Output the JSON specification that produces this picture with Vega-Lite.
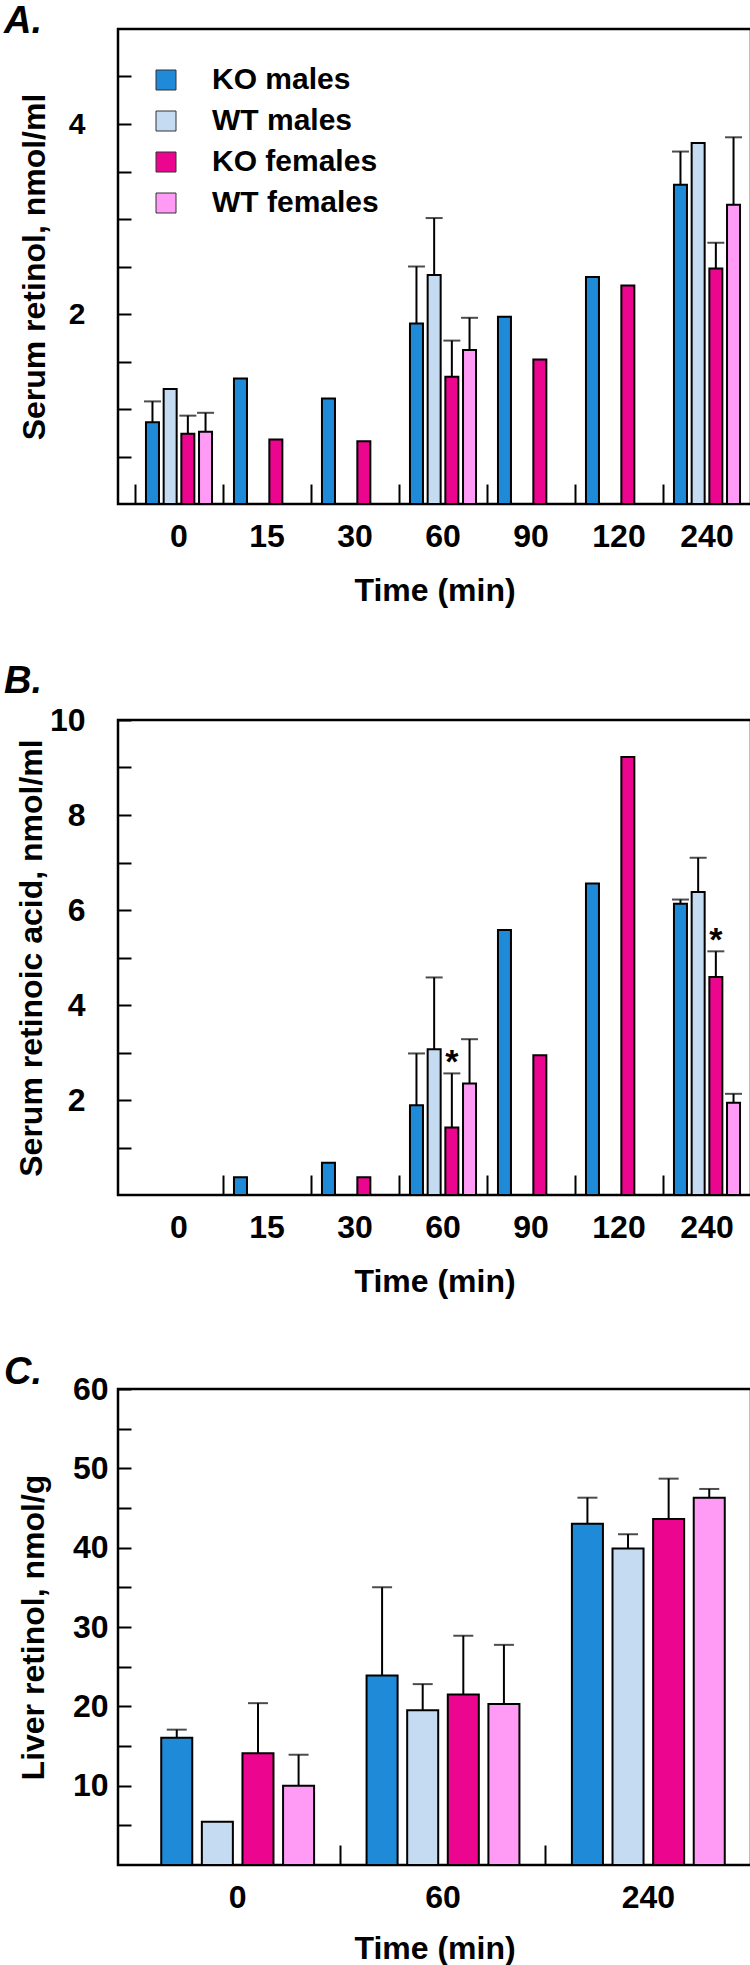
{
  "$schema": "https://vega.github.io/schema/vega-lite/v6.json",
  "background": "white",
  "padding": {"left": 2, "top": 1, "right": 0, "bottom": 0},
  "spacing": 53,
  "config": {
    "font": "Liberation Sans",
    "view": {"stroke": "black", "strokeWidth": 2.5},
    "axis": {"domain": false, "grid": false, "labelFont": "Liberation Sans", "labelFontWeight": "bold", "labelColor": "black", "titleFont": "Liberation Sans", "titleFontWeight": "bold", "titleColor": "black", "tickColor": "black", "tickWidth": 2, "labelOverlap": false},
    "title": {"font": "Liberation Sans", "fontStyle": "italic", "fontWeight": "bold", "fontSize": 38, "anchor": "start", "frame": "group", "color": "black", "offset": 0, "baseline": "alphabetic"}
  },
  "resolve": {"scale": {"color": "independent", "xOffset": "independent", "x": "independent", "y": "independent"}},
  "datasets": {
    "A": [
      {"time": "0", "group": "KO males", "value": 0.86, "err": 1.08},
      {"time": "0", "group": "WT males", "value": 1.21},
      {"time": "0", "group": "KO females", "value": 0.74, "err": 0.93},
      {"time": "0", "group": "WT females", "value": 0.76, "err": 0.96},
      {"time": "15", "group": "KO males", "value": 1.32},
      {"time": "15", "group": "KO females", "value": 0.68},
      {"time": "30", "group": "KO males", "value": 1.11},
      {"time": "30", "group": "KO females", "value": 0.66},
      {"time": "60", "group": "KO males", "value": 1.9, "err": 2.5},
      {"time": "60", "group": "WT males", "value": 2.41, "err": 3.01},
      {"time": "60", "group": "KO females", "value": 1.34, "err": 1.72},
      {"time": "60", "group": "WT females", "value": 1.62, "err": 1.96},
      {"time": "90", "group": "KO males", "value": 1.97},
      {"time": "90", "group": "KO females", "value": 1.52},
      {"time": "120", "group": "KO males", "value": 2.39},
      {"time": "120", "group": "KO females", "value": 2.3},
      {"time": "240", "group": "KO males", "value": 3.36, "err": 3.71},
      {"time": "240", "group": "WT males", "value": 3.8},
      {"time": "240", "group": "KO females", "value": 2.48, "err": 2.75},
      {"time": "240", "group": "WT females", "value": 3.15, "err": 3.86}
    ],
    "B": [
      {"time": "15", "group": "KO males", "value": 0.375},
      {"time": "30", "group": "KO males", "value": 0.68},
      {"time": "30", "group": "KO females", "value": 0.375},
      {"time": "60", "group": "KO males", "value": 1.89, "err": 2.98},
      {"time": "60", "group": "WT males", "value": 3.07, "err": 4.58},
      {"time": "60", "group": "KO females", "value": 1.42, "err": 2.56, "sig": "*"},
      {"time": "60", "group": "WT females", "value": 2.35, "err": 3.28},
      {"time": "90", "group": "KO males", "value": 5.58},
      {"time": "90", "group": "KO females", "value": 2.94},
      {"time": "120", "group": "KO males", "value": 6.56},
      {"time": "120", "group": "KO females", "value": 9.22},
      {"time": "240", "group": "KO males", "value": 6.13, "err": 6.22},
      {"time": "240", "group": "WT males", "value": 6.38, "err": 7.1},
      {"time": "240", "group": "KO females", "value": 4.59, "err": 5.13, "sig": "*"},
      {"time": "240", "group": "WT females", "value": 1.94, "err": 2.13}
    ],
    "C": [
      {"time": "0", "group": "KO males", "value": 16.04, "err": 17.06},
      {"time": "0", "group": "WT males", "value": 5.45},
      {"time": "0", "group": "KO females", "value": 14.1, "err": 20.4},
      {"time": "0", "group": "WT females", "value": 10.0, "err": 13.9},
      {"time": "60", "group": "KO males", "value": 23.9, "err": 35.0},
      {"time": "60", "group": "WT males", "value": 19.5, "err": 22.8},
      {"time": "60", "group": "KO females", "value": 21.5, "err": 28.9},
      {"time": "60", "group": "WT females", "value": 20.3, "err": 27.75},
      {"time": "240", "group": "KO males", "value": 43.0, "err": 46.3},
      {"time": "240", "group": "WT males", "value": 39.9, "err": 41.7},
      {"time": "240", "group": "KO females", "value": 43.6, "err": 48.7},
      {"time": "240", "group": "WT females", "value": 46.3, "err": 47.4}
    ]
  },
  "vconcat": [
    {
      "width": 633, "height": 475,
      "title": {"text": "A.", "dx": -114, "dy": 16},
      "data": {"name": "A"},
      "encoding": {
        "x": {"field": "time", "type": "nominal", "scale": {"domain": ["0", "15", "30", "60", "90", "120", "240"], "paddingInner": 0, "paddingOuter": 0.0966, "align": 1},
          "axis": {"title": "Time (min)", "labelAngle": 0, "bandPosition": 1, "tickExtra": true, "tickSize": -20, "labelPadding": 37, "labelFontSize": 32, "titleFontSize": 32, "titlePadding": 23}},
        "xOffset": {"field": "group", "type": "nominal", "scale": {"domain": ["KO males", "WT males", "KO females", "WT females"], "paddingInner": 0.265, "paddingOuter": 0.62}}
      },
      "layer": [
        {
          "mark": {"type": "bar", "stroke": "black", "strokeWidth": 2},
          "encoding": {
            "y": {"field": "value", "type": "quantitative", "scale": {"domain": [0, 5], "nice": false},
              "axis": {"title": "Serum retinol, nmol/ml", "values": [0.5, 1, 1.5, 2, 2.5, 3, 3.5, 4, 4.5], "labelExpr": "datum.value == 2 || datum.value == 4 ? '' + datum.value : ''", "tickSize": -13, "labelPadding": 46, "labelFontSize": 30, "titleFontSize": 32, "titleX": -74, "titleBaseline": "alphabetic"}},
            "color": {"field": "group", "type": "nominal",
              "scale": {"domain": ["KO males", "WT males", "KO females", "WT females"], "range": ["#1f8ad8", "#c4dbf1", "#ec058f", "#ff9bf5"]},
              "legend": {"orient": "none", "legendX": 33, "legendY": 36, "title": null, "symbolType": "square", "symbolSize": 400, "symbolStrokeColor": "#333333", "symbolStrokeWidth": 1, "symbolOpacity": 1, "labelFontSize": 30, "labelFontWeight": "bold", "labelFont": "Liberation Sans", "labelColor": "black", "labelOffset": 31, "labelLimit": 0, "rowPadding": 11}}
          }
        },
        {
          "transform": [{"filter": "isValid(datum.err)"}],
          "mark": {"type": "rule", "strokeWidth": 2, "color": "black"},
          "encoding": {"y": {"field": "value", "type": "quantitative", "title": "Serum retinol, nmol/ml"}, "y2": {"field": "err"}}
        },
        {
          "transform": [{"filter": "isValid(datum.err)"}],
          "mark": {"type": "tick", "orient": "horizontal", "size": 17, "thickness": 2, "color": "black"},
          "encoding": {"y": {"field": "err", "type": "quantitative", "title": "Serum retinol, nmol/ml"}}
        }
      ]
    },
    {
      "width": 633, "height": 475,
      "title": {"text": "B.", "dx": -114, "dy": 1},
      "data": {"name": "B"},
      "encoding": {
        "x": {"field": "time", "type": "nominal", "scale": {"domain": ["0", "15", "30", "60", "90", "120", "240"], "paddingInner": 0, "paddingOuter": 0.0966, "align": 1},
          "axis": {"title": "Time (min)", "labelAngle": 0, "bandPosition": 1, "tickExtra": false, "tickSize": -20, "labelPadding": 37, "labelFontSize": 32, "titleFontSize": 32, "titlePadding": 23}},
        "xOffset": {"field": "group", "type": "nominal", "scale": {"domain": ["KO males", "WT males", "KO females", "WT females"], "paddingInner": 0.265, "paddingOuter": 0.62}}
      },
      "layer": [
        {
          "mark": {"type": "bar", "stroke": "black", "strokeWidth": 2},
          "encoding": {
            "y": {"field": "value", "type": "quantitative", "scale": {"domain": [0, 10], "nice": false},
              "axis": {"title": "Serum retinoic acid, nmol/ml", "values": [1, 2, 3, 4, 5, 6, 7, 8, 9, 10], "labelExpr": "datum.value % 2 == 0 ? '' + datum.value : ''", "tickSize": -13, "labelPadding": 46, "labelFontSize": 32, "titleFontSize": 32, "titleX": -77, "titleBaseline": "alphabetic"}},
            "color": {"field": "group", "type": "nominal",
              "scale": {"domain": ["KO males", "WT males", "KO females", "WT females"], "range": ["#1f8ad8", "#c4dbf1", "#ec058f", "#ff9bf5"]},
              "legend": null}
          }
        },
        {
          "transform": [{"filter": "isValid(datum.err)"}],
          "mark": {"type": "rule", "strokeWidth": 2, "color": "black"},
          "encoding": {"y": {"field": "value", "type": "quantitative", "title": "Serum retinoic acid, nmol/ml"}, "y2": {"field": "err"}}
        },
        {
          "transform": [{"filter": "isValid(datum.err)"}],
          "mark": {"type": "tick", "orient": "horizontal", "size": 17, "thickness": 2, "color": "black"},
          "encoding": {"y": {"field": "err", "type": "quantitative", "title": "Serum retinoic acid, nmol/ml"}}
        },
        {
          "transform": [{"filter": "isValid(datum.sig)"}],
          "mark": {"type": "text", "fontSize": 34, "fontWeight": "bold", "baseline": "alphabetic", "color": "black", "dy": 0},
          "encoding": {"y": {"field": "err", "type": "quantitative", "title": "Serum retinoic acid, nmol/ml"}, "text": {"field": "sig"}}
        }
      ]
    },
    {
      "width": 633, "height": 476,
      "title": {"text": "C.", "dx": -114, "dy": 23},
      "data": {"name": "C"},
      "encoding": {
        "x": {"field": "time", "type": "nominal", "scale": {"domain": ["0", "60", "240"], "paddingInner": 0, "paddingOuter": 0.0414, "align": 1},
          "axis": {"title": "Time (min)", "labelAngle": 0, "bandPosition": 1, "tickExtra": false, "tickSize": -20, "labelPadding": 37, "labelFontSize": 32, "titleFontSize": 32, "titlePadding": 20}},
        "xOffset": {"field": "group", "type": "nominal", "scale": {"domain": ["KO males", "WT males", "KO females", "WT females"], "paddingInner": 0.236, "paddingOuter": 0.646}}
      },
      "layer": [
        {
          "mark": {"type": "bar", "stroke": "black", "strokeWidth": 2},
          "encoding": {
            "y": {"field": "value", "type": "quantitative", "scale": {"domain": [0, 60], "nice": false},
              "axis": {"title": "Liver retinol, nmol/g", "values": [5, 10, 15, 20, 25, 30, 35, 40, 45, 50, 55, 60], "labelExpr": "datum.value % 10 == 0 ? '' + datum.value : ''", "tickSize": -13, "labelPadding": 23, "labelFontSize": 32, "titleFontSize": 32, "titleX": -75, "titleBaseline": "alphabetic"}},
            "color": {"field": "group", "type": "nominal",
              "scale": {"domain": ["KO males", "WT males", "KO females", "WT females"], "range": ["#1f8ad8", "#c4dbf1", "#ec058f", "#ff9bf5"]},
              "legend": null}
          }
        },
        {
          "transform": [{"filter": "isValid(datum.err)"}],
          "mark": {"type": "rule", "strokeWidth": 2, "color": "black"},
          "encoding": {"y": {"field": "value", "type": "quantitative", "title": "Liver retinol, nmol/g"}, "y2": {"field": "err"}}
        },
        {
          "transform": [{"filter": "isValid(datum.err)"}],
          "mark": {"type": "tick", "orient": "horizontal", "size": 20, "thickness": 2, "color": "black"},
          "encoding": {"y": {"field": "err", "type": "quantitative", "title": "Liver retinol, nmol/g"}}
        }
      ]
    }
  ]
}
